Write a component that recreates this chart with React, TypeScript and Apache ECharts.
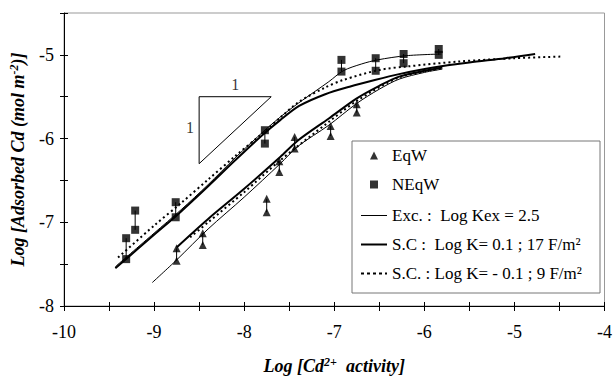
import React, { useEffect, useRef } from "react";
import * as echarts from "echarts";

// Measured points (error-bar pairs): x, lower value, upper value
const eqwX = [-8.75, -8.46, -7.75, -7.61, -7.44, -7.04, -6.75];
const eqwLow = [-7.46, -7.27, -6.88, -6.4, -6.12, -5.97, -5.69];
const eqwHigh = [-7.31, -7.13, -6.72, -6.27, -5.98, -5.85, -5.59];

const neqwX = [-9.31, -9.21, -8.76, -7.77, -6.92, -6.54, -6.23, -5.84];
const neqwLow = [-7.44, -7.09, -6.94, -6.06, -5.2, -5.19, -5.1, -5.0];
const neqwHigh = [-7.19, -6.86, -6.76, -5.9, -5.06, -5.04, -4.99, -4.93];

// Model curves, NEqW branch
const excNX = [-9.43, -9.0, -8.7, -8.4, -8.1, -7.77, -7.55, -7.35, -7.06, -6.9, -6.7, -6.52, -6.2, -5.81];
const excNY = [-7.53, -7.13, -6.85, -6.55, -6.23, -5.9, -5.7, -5.54, -5.32, -5.19, -5.11, -5.06, -5.01, -4.99];
const scNX = [-9.43, -9.0, -8.7, -8.4, -8.1, -7.8, -7.6, -7.39, -7.1, -6.83, -6.55, -6.28, -5.9, -5.5, -5.1, -4.77];
const scNY = [-7.55, -7.15, -6.87, -6.57, -6.26, -5.96, -5.78, -5.61, -5.47, -5.38, -5.3, -5.23, -5.15, -5.09, -5.04, -4.99];
const dotNX = [-9.4, -9.0, -8.7, -8.4, -8.1, -7.8, -7.6, -7.39, -7.1, -6.9, -6.5, -6.2, -5.62, -5.0, -4.47];
const dotNY = [-7.42, -7.04, -6.77, -6.49, -6.21, -5.94, -5.75, -5.56, -5.39, -5.3, -5.18, -5.14, -5.08, -5.04, -5.02];

// Model curves, EqW branch
const excEX = [-9.02, -8.75, -8.4, -8.0, -7.6, -7.4, -7.06, -6.75, -6.5, -6.28, -6.0, -5.8];
const excEY = [-7.72, -7.45, -7.08, -6.7, -6.3, -6.09, -5.84, -5.58, -5.41, -5.29, -5.21, -5.17];
const scEX = [-8.75, -8.4, -8.0, -7.6, -7.4, -7.06, -6.75, -6.5, -6.28, -6.0, -5.8];
const scEY = [-7.3, -6.96, -6.6, -6.22, -6.02, -5.76, -5.52, -5.37, -5.26, -5.19, -5.15];
const dotEX = [-8.6, -8.4, -8.0, -7.6, -7.06, -6.75, -6.28, -5.8];
const dotEY = [-7.18, -7.0, -6.64, -6.26, -5.8, -5.55, -5.27, -5.16];

// Slope triangle annotation
const slopeX = [-8.5, -7.7, -8.5, -8.5];
const slopeY = [-5.5, -5.5, -6.3, -5.5];
const slopeLabelX = [-8.1, -8.6];
const slopeLabelY = [-5.36, -5.87];
const slopeLabels = ["1", "1"];

const legendNames = [
  "EqW",
  "NEqW",
  "Exc. :  Log Kex = 2.5",
  "S.C :  Log K= 0.1 ; 17 F/m²",
  "S.C. : Log K= - 0.1 ; 9 F/m²",
];

const FONT = "Liberation Serif";

const zip = (xs: number[], ys: number[]) => xs.map((x, i) => [x, ys[i]]);

export default function App() {
  const ref = useRef<HTMLDivElement>(null);
  useEffect(() => {
    if (!ref.current) return;
    const chart = echarts.init(ref.current, null, { renderer: "svg" });
    const lineSeries = (name: string, xs: number[], ys: number[], style: any) => ({
      type: "line",
      name,
      data: zip(xs, ys),
      symbol: "none",
      smooth: 0.3,
      silent: true,
      color: "#000",
      lineStyle: { color: "#000", ...style },
    });
    const thin = { width: 1 };
    const thick = { width: 2 };
    const dotted = { width: 2, type: [2, 3] };
    const errData = [
      ...eqwX.map((x, i) => [x, eqwLow[i], eqwHigh[i]]),
      ...neqwX.map((x, i) => [x, neqwLow[i], neqwHigh[i]]),
    ];
    const hideSym = { color: "rgba(0,0,0,0)", borderWidth: 0, opacity: 0 };
    const titleStyle = {
      fontFamily: FONT,
      fontSize: 18,
      fontStyle: "italic",
      fontWeight: "bold",
      color: "#000",
      rich: {
        sup: {
          fontFamily: FONT,
          fontSize: 12,
          fontStyle: "italic",
          fontWeight: "bold",
          color: "#000",
          verticalAlign: "top",
          padding: [0, 0, 8, 0],
        },
      },
    };
    const legText = { fontFamily: FONT, fontSize: 17, color: "#000" };
    const intOnly = (v: number) => (Number.isInteger(v) ? String(v) : "");
    chart.setOption({
      animation: false,
      backgroundColor: "#fff",
      textStyle: { fontFamily: FONT, color: "#000" },
      grid: {
        left: 63,
        right: 8,
        top: 13,
        bottom: 69,
        show: true,
        borderColor: "#999",
        borderWidth: 1,
      },
      graphic: [
        {
          type: "rect",
          z: 10,
          shape: { x: 352, y: 141, width: 248, height: 152 },
          style: { fill: "#fff", stroke: "#777", lineWidth: 1 },
        },
      ],
      legend: [
        {
          orient: "vertical",
          left: 370,
          top: 147,
          padding: 0,
          itemGap: 12,
          itemWidth: 8,
          itemHeight: 8,
          z: 20,
          selectedMode: false,
          textStyle: { ...legText, padding: [0, 0, 0, 9] },
          data: [
            { name: legendNames[0], icon: "triangle", itemStyle: { color: "#000" } },
            { name: legendNames[1], icon: "rect", itemStyle: { color: "#000" } },
          ],
        },
        {
          orient: "vertical",
          left: 360,
          top: 207,
          padding: 0,
          itemGap: 12,
          itemWidth: 26,
          itemHeight: 8,
          z: 20,
          selectedMode: false,
          textStyle: legText,
          data: [
            { name: legendNames[2], lineStyle: { width: 1, color: "#000" }, itemStyle: hideSym },
            { name: legendNames[3], lineStyle: { width: 2, color: "#000" }, itemStyle: hideSym },
            { name: legendNames[4], lineStyle: { width: 2, color: "#000", type: [3, 3] }, itemStyle: hideSym },
          ],
        },
      ],
      xAxis: [
        {
          type: "value",
          min: -10,
          max: -4,
          interval: 0.5,
          name: "Log [Cd{sup|2+}  activity]",
          nameLocation: "middle",
          nameGap: 50,
          nameTextStyle: titleStyle,
          axisLine: { onZero: false, lineStyle: { color: "#000", width: 1 } },
          axisTick: { length: 5, lineStyle: { color: "#000" } },
          splitLine: { show: false },
          axisLabel: { margin: 17, fontFamily: FONT, fontSize: 18, color: "#000", formatter: intOnly },
        },
        {
          type: "value",
          position: "bottom",
          min: -10,
          max: -4,
          interval: 0.5,
          axisLine: { show: false, onZero: false },
          axisTick: { inside: true, length: 4, lineStyle: { color: "#000" } },
          axisLabel: { show: false },
          splitLine: { show: false },
        },
      ],
      yAxis: [
        {
          type: "value",
          min: -8,
          max: -4.5,
          interval: 0.5,
          name: "Log [Adsorbed Cd (mol m{sup|-2})]",
          nameLocation: "middle",
          nameRotate: 90,
          nameGap: 36,
          nameTextStyle: titleStyle,
          axisLine: { onZero: false, lineStyle: { color: "#000", width: 1 } },
          axisTick: { length: 4, lineStyle: { color: "#000" } },
          splitLine: { show: false },
          axisLabel: { margin: 10, fontFamily: FONT, fontSize: 18, color: "#000", formatter: intOnly },
        },
        {
          type: "value",
          position: "left",
          min: -8,
          max: -4.5,
          interval: 0.5,
          axisLine: { show: false, onZero: false },
          axisTick: { inside: true, length: 4, lineStyle: { color: "#000" } },
          axisLabel: { show: false },
          splitLine: { show: false },
        },
      ],
      series: [
        {
          type: "scatter",
          name: legendNames[0],
          symbol: "triangle",
          symbolSize: 8,
          itemStyle: { color: "#000" },
          data: [...zip(eqwX, eqwLow), ...zip(eqwX, eqwHigh)],
          z: 5,
        },
        {
          type: "scatter",
          name: legendNames[1],
          symbol: "rect",
          symbolSize: 8,
          itemStyle: { color: "#000" },
          data: [...zip(neqwX, neqwLow), ...zip(neqwX, neqwHigh)],
          z: 5,
        },
        {
          type: "custom",
          name: "errorbars",
          silent: true,
          encode: { x: 0, y: [1, 2] },
          data: errData,
          renderItem: (_p: any, api: any) => {
            const a = api.coord([api.value(0), api.value(1)]);
            const b = api.coord([api.value(0), api.value(2)]);
            return {
              type: "line",
              shape: { x1: a[0], y1: a[1], x2: b[0], y2: b[1] },
              style: { stroke: "#000", lineWidth: 1 },
            };
          },
          z: 4,
        },
        lineSeries(legendNames[2], excNX, excNY, thin),
        lineSeries(legendNames[2], excEX, excEY, thin),
        lineSeries(legendNames[3], scNX, scNY, thick),
        lineSeries(legendNames[3], scEX, scEY, thick),
        lineSeries(legendNames[4], dotNX, dotNY, dotted),
        lineSeries(legendNames[4], dotEX, dotEY, dotted),
        {
          type: "line",
          name: "slope",
          data: zip(slopeX, slopeY),
          symbol: "none",
          silent: true,
          color: "#000",
          lineStyle: { color: "#000", width: 1 },
        },
        {
          type: "scatter",
          name: "slopeLabels",
          silent: true,
          symbolSize: 1,
          color: "#000",
          itemStyle: { color: "rgba(0,0,0,0)" },
          data: slopeLabelX.map((x, i) => ({
            value: [x, slopeLabelY[i]],
            label: { formatter: slopeLabels[i] },
          })),
          label: {
            show: true,
            position: "inside",
            fontFamily: FONT,
            fontSize: 16,
            color: "#000",
            textBorderWidth: 0,
          },
        },
      ],
    });
    return () => chart.dispose();
  }, []);
  return (
    <div
      ref={ref}
      style={{ position: "fixed", left: 0, top: 0, width: 615, height: 380, background: "#fff" }}
    />
  );
}
